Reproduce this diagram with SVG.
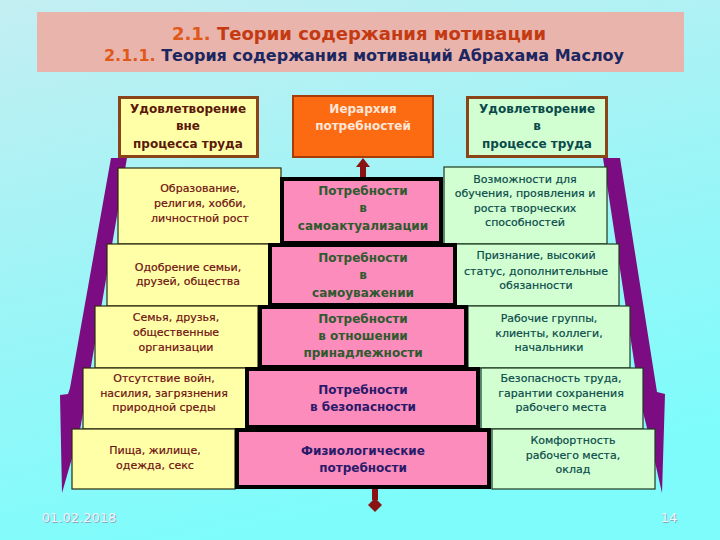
<svg xmlns="http://www.w3.org/2000/svg" width="720" height="540" viewBox="0 0 720 540">
<defs>
<linearGradient id="bg" x1="0" y1="0" x2="0.3" y2="1">
<stop offset="0" stop-color="#c4eef2"/>
<stop offset="0.5" stop-color="#9ef4f6"/>
<stop offset="1" stop-color="#7efcfc"/>
</linearGradient>
<style>
text{font-family:"DejaVu Sans","Liberation Sans",sans-serif;text-anchor:middle}
.yb{fill:#ffffa8;stroke:#2a2a10;stroke-width:1.2}
.gb{fill:#d2ffd2;stroke:#1e3a1e;stroke-width:1.2}
.pb{fill:#fb8cbc;stroke:#000;stroke-width:4}
.yt{font-size:11px;fill:#6e1010;stroke:#6e1010;stroke-width:0.2}
.gt{font-size:11px;fill:#0a4a4a;stroke:#0a4a4a;stroke-width:0.2}
.pg{font-size:12px;font-weight:bold;fill:#2e5a2e}
.pn{font-size:12px;font-weight:bold;fill:#2a1a6a}
.band{fill:#7c0c82}
</style>
</defs>
<rect width="720" height="540" fill="url(#bg)"/>

<g id="title">
<rect x="37" y="12" width="647" height="60" fill="#e8b4ac"/>
<text x="359" y="40" style="font-size:18px;font-weight:bold;fill:#c43a12"><tspan fill="#e0581a">2.1.</tspan> Теории содержания мотивации</text>
<text x="364" y="61" style="font-size:16px;font-weight:bold;fill:#1c2660"><tspan fill="#e0581a">2.1.1.</tspan> Теория содержания мотиваций Абрахама Маслоу</text>
</g>

<g id="bands">
<polygon class="band" points="111,158 127,158 80,430 72,458 62,493 60,395 68,394 70,388"/>
<polygon class="band" points="603,158 620,158 657,392 665,394 662,493 650,440 640,400"/>
</g>

<g id="head-left">
<rect x="119.5" y="97.5" width="138" height="59" fill="#ffffa8" stroke="#8a4418" stroke-width="3"/>
<text x="188" y="113" style="font-size:12px;font-weight:bold;fill:#5a1808">Удовлетворение</text>
<text x="188" y="130" style="font-size:12px;font-weight:bold;fill:#5a1808">вне</text>
<text x="188" y="148" style="font-size:12px;font-weight:bold;fill:#5a1808">процесса труда</text>
</g>
<g id="head-center">
<rect x="293" y="96" width="140" height="61" fill="#fc6a12" stroke="#a83c08" stroke-width="2"/>
<text x="363" y="113" style="font-size:12px;font-weight:bold;fill:#ffe6d8">Иерархия</text>
<text x="363" y="130" style="font-size:12px;font-weight:bold;fill:#ffe6d8">потребностей</text>
</g>
<g id="head-right">
<rect x="467.5" y="97.5" width="139" height="59" fill="#d2ffd2" stroke="#8a4418" stroke-width="3"/>
<text x="537" y="113" style="font-size:12px;font-weight:bold;fill:#0a4a4a">Удовлетворение</text>
<text x="537" y="130" style="font-size:12px;font-weight:bold;fill:#0a4a4a">в</text>
<text x="537" y="148" style="font-size:12px;font-weight:bold;fill:#0a4a4a">процессе труда</text>
</g>

<g id="connectors">
<rect x="360" y="166" width="6" height="11" fill="#8a1414"/>
<polygon points="363,158 356,167 370,167" fill="#8a1414"/>
<rect x="372" y="488" width="6" height="12" fill="#8a1414"/>
<polygon points="375,498 382,505 375,512 368,505" fill="#8a1414"/>
</g>

<g id="left-1">
<rect class="yb" x="118" y="168" width="163" height="76"/>
<text class="yt" x="200" y="192">Образование,</text>
<text class="yt" x="200" y="207">религия, хобби,</text>
<text class="yt" x="200" y="222">личностной рост</text>
</g>
<g id="right-1">
<rect class="gb" x="444" y="167" width="163" height="77"/>
<text class="gt" x="525" y="183">Возможности для</text>
<text class="gt" x="525" y="197">обучения, проявления и</text>
<text class="gt" x="525" y="212">роста творческих</text>
<text class="gt" x="525" y="226">способностей</text>
</g>
<g id="center-1">
<rect class="pb" x="282" y="179" width="159" height="64"/>
<text class="pg" x="363" y="195">Потребности</text>
<text class="pg" x="363" y="212">в</text>
<text class="pg" x="363" y="230">самоактуализации</text>
</g>

<g id="left-2">
<rect class="yb" x="107" y="244" width="162" height="62"/>
<text class="yt" x="188" y="271">Одобрение семьи,</text>
<text class="yt" x="188" y="285">друзей, общества</text>
</g>
<g id="right-2">
<rect class="gb" x="455" y="244" width="164" height="62"/>
<text class="gt" x="536" y="259">Признание, высокий</text>
<text class="gt" x="536" y="275">статус, дополнительные</text>
<text class="gt" x="536" y="289">обязанности</text>
</g>
<g id="center-2">
<rect class="pb" x="270" y="245" width="185" height="60"/>
<text class="pg" x="363" y="262">Потребности</text>
<text class="pg" x="363" y="279">в</text>
<text class="pg" x="363" y="297">самоуважении</text>
</g>

<g id="left-3">
<rect class="yb" x="95" y="306" width="163" height="62"/>
<text class="yt" x="176" y="321">Семья, друзья,</text>
<text class="yt" x="176" y="336">общественные</text>
<text class="yt" x="176" y="351">организации</text>
</g>
<g id="right-3">
<rect class="gb" x="468" y="306" width="162" height="62"/>
<text class="gt" x="549" y="322">Рабочие группы,</text>
<text class="gt" x="549" y="337">клиенты, коллеги,</text>
<text class="gt" x="549" y="351">начальники</text>
</g>
<g id="center-3">
<rect class="pb" x="260" y="307" width="206" height="60"/>
<text class="pg" x="363" y="323">Потребности</text>
<text class="pg" x="363" y="340">в отношении</text>
<text class="pg" x="363" y="357">принадлежности</text>
</g>

<g id="left-4">
<rect class="yb" x="83" y="368" width="163" height="61"/>
<text class="yt" x="164" y="382">Отсутствие войн,</text>
<text class="yt" x="164" y="397">насилия, загрязнения</text>
<text class="yt" x="164" y="411">природной среды</text>
</g>
<g id="right-4">
<rect class="gb" x="481" y="368" width="162" height="61"/>
<text class="gt" x="561" y="382">Безопасность труда,</text>
<text class="gt" x="561" y="397">гарантии сохранения</text>
<text class="gt" x="561" y="411">рабочего места</text>
</g>
<g id="center-4">
<rect class="pb" x="247" y="369" width="231" height="58"/>
<text class="pn" x="363" y="394">Потребности</text>
<text class="pn" x="363" y="411">в безопасности</text>
</g>

<g id="left-5">
<rect class="yb" x="72" y="429" width="163" height="60"/>
<text class="yt" x="155" y="454">Пища, жилище,</text>
<text class="yt" x="155" y="469">одежда, секс</text>
</g>
<g id="right-5">
<rect class="gb" x="492" y="429" width="163" height="60"/>
<text class="gt" x="573" y="444">Комфортность</text>
<text class="gt" x="573" y="459">рабочего места,</text>
<text class="gt" x="573" y="473">оклад</text>
</g>
<g id="center-5">
<rect class="pb" x="237" y="430" width="252" height="57"/>
<text class="pn" x="363" y="455">Физиологические</text>
<text class="pn" x="363" y="472">потребности</text>
</g>

<g id="footer">
<text x="80" y="523" style="font-size:13px;fill:#8aa8b8">01.02.2018</text>
<text x="79" y="522" style="font-size:13px;fill:#eef6ff">01.02.2018</text>
<text x="670" y="523" style="font-size:13px;fill:#8aa8b8">14</text>
<text x="669" y="522" style="font-size:13px;fill:#eef6ff">14</text>
</g>
</svg>
